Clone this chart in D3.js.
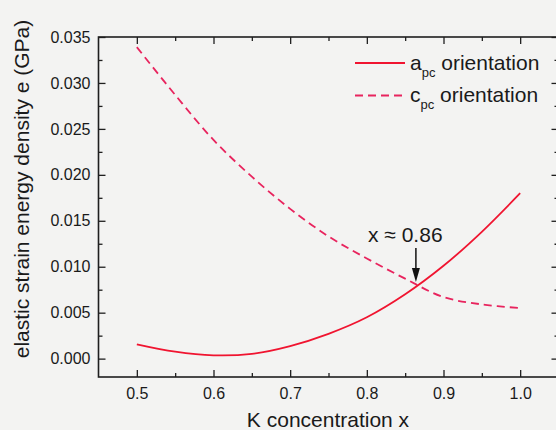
<!DOCTYPE html>
<html>
<head>
<meta charset="utf-8">
<script src="https://cdn.jsdelivr.net/npm/d3@7"></script>
<style>
  html, body { margin: 0; padding: 0; background: #f3f3f2; }
  svg { display: block; }
  text { font-family: "Liberation Sans", Arial, Helvetica, sans-serif; fill: #1a1a1a; }
</style>
</head>
<body>
<svg id="chart" width="556" height="430"></svg>
<script>
// K concentration (x axis)
const concentration = [0.5, 0.55, 0.6, 0.65, 0.7, 0.75, 0.8, 0.85, 0.9, 0.95, 1.0];
// elastic strain energy density e (GPa) for the two orientations
const aOrientation = [0.00156, 0.00075, 0.00036, 0.00052, 0.00137, 0.0027, 0.0045, 0.0070, 0.0101, 0.0138, 0.0180];
const cOrientation = [0.0339, 0.0287, 0.0238, 0.0198, 0.0163, 0.0133, 0.0109, 0.0087, 0.0067, 0.0059, 0.0055];

const xTicks = [0.5, 0.6, 0.7, 0.8, 0.9, 1.0];
const xMinorTicks = [0.55, 0.65, 0.75, 0.85, 0.95];
const yTicks = [0.000, 0.005, 0.010, 0.015, 0.020, 0.025, 0.030, 0.035];
const yMinorTicks = [0.0025, 0.0075, 0.0125, 0.0175, 0.0225, 0.0275, 0.0325];

const seriesNames = ["a", "c"];
const seriesSub = ["pc", "pc"];
const crossingLabel = "x \u2248 0.86";
const crossingX = 0.864;

const svg = d3.select("#chart");
const plotLeft = 98.5, plotRight = 558.5, plotTop = 37, plotBottom = 377;

const x = d3.scaleLinear().domain([0.45, 1.05]).range([plotLeft, plotRight]);
const y = d3.scaleLinear().domain([-0.002, 0.035]).range([plotBottom, plotTop]);

const axisColor = "#1f1f1f";

function styleAxis(g) {
  g.select(".domain").remove();
  g.selectAll(".tick line").attr("stroke", axisColor).attr("stroke-width", 1.3);
  g.selectAll(".tick text").style("font-size", "16px").attr("fill", "#1a1a1a");
}

// bottom axis (ticks pointing inward)
svg.append("g").attr("transform", `translate(0,${plotBottom})`)
  .call(d3.axisBottom(x).tickValues(xTicks).tickSize(-7).tickPadding(11).tickFormat(d3.format(".1f")))
  .call(styleAxis);
svg.append("g").attr("transform", `translate(0,${plotBottom})`)
  .call(d3.axisBottom(x).tickValues(xMinorTicks).tickSize(-4).tickFormat(""))
  .call(styleAxis);
// top axis
svg.append("g").attr("transform", `translate(0,${plotTop})`)
  .call(d3.axisTop(x).tickValues(xTicks).tickSize(-7).tickFormat(""))
  .call(styleAxis);
svg.append("g").attr("transform", `translate(0,${plotTop})`)
  .call(d3.axisTop(x).tickValues(xMinorTicks).tickSize(-4).tickFormat(""))
  .call(styleAxis);
// left axis
svg.append("g").attr("transform", `translate(${plotLeft},0)`)
  .call(d3.axisLeft(y).tickValues(yTicks).tickSize(-7).tickPadding(8).tickFormat(d3.format(".3f")))
  .call(styleAxis);
svg.append("g").attr("transform", `translate(${plotLeft},0)`)
  .call(d3.axisLeft(y).tickValues(yMinorTicks).tickSize(-4).tickFormat(""))
  .call(styleAxis);
// right axis
svg.append("g").attr("transform", `translate(${plotRight},0)`)
  .call(d3.axisRight(y).tickValues(yTicks).tickSize(-7).tickFormat(""))
  .call(styleAxis);
svg.append("g").attr("transform", `translate(${plotRight},0)`)
  .call(d3.axisRight(y).tickValues(yMinorTicks).tickSize(-4).tickFormat(""))
  .call(styleAxis);

// plot frame
svg.append("rect")
  .attr("x", plotLeft).attr("y", plotTop)
  .attr("width", plotRight - plotLeft).attr("height", plotBottom - plotTop)
  .attr("fill", "none").attr("stroke", axisColor).attr("stroke-width", 1.6);

// curves
const line = d3.line().curve(d3.curveCatmullRom.alpha(0.5));
const aPts = concentration.map((c, i) => [x(c), y(aOrientation[i])]);
const cPts = concentration.map((c, i) => [x(c), y(cOrientation[i])]);

svg.append("path").attr("d", line(cPts))
  .attr("fill", "none").attr("stroke", "#e8245e").attr("stroke-width", 1.8)
  .attr("stroke-dasharray", "8,5");
svg.append("path").attr("d", line(aPts))
  .attr("fill", "none").attr("stroke", "#f01430").attr("stroke-width", 1.8);

// legend
const legend = svg.append("g");
const legendY = [63, 95.5];
const legendStyles = [
  { color: "#f01430", dash: null },
  { color: "#e8245e", dash: "8,5" }
];
seriesNames.forEach((name, i) => {
  legend.append("line")
    .attr("x1", 355).attr("x2", 405).attr("y1", legendY[i]).attr("y2", legendY[i])
    .attr("stroke", legendStyles[i].color).attr("stroke-width", 1.8)
    .attr("stroke-dasharray", legendStyles[i].dash);
  const t = legend.append("text")
    .attr("x", 410).attr("y", legendY[i] + 6.8)
    .style("font-size", "21px");
  t.append("tspan").text(name);
  t.append("tspan").attr("dy", 7).style("font-size", "13px").text(seriesSub[i]);
  t.append("tspan").attr("dy", -7).text(" orientation");
});

// crossing annotation
const cx = x(crossingX);
svg.append("text")
  .attr("x", 368).attr("y", 241.5)
  .style("font-size", "21px")
  .text(crossingLabel);
svg.append("line")
  .attr("x1", cx).attr("x2", cx).attr("y1", 248).attr("y2", 270)
  .attr("stroke", "#111").attr("stroke-width", 1.5);
svg.append("path")
  .attr("d", `M${cx - 4},${268} L${cx + 4},${268} L${cx},${282} Z`)
  .attr("fill", "#111");

// axis titles
svg.append("text")
  .attr("x", 328).attr("y", 427)
  .attr("text-anchor", "middle")
  .style("font-size", "21px")
  .text("K concentration x");
svg.append("text")
  .attr("transform", "translate(28.5,189) rotate(-90)")
  .attr("text-anchor", "middle")
  .style("font-size", "21px")
  .text("elastic strain energy density e (GPa)");
</script>
</body>
</html>
